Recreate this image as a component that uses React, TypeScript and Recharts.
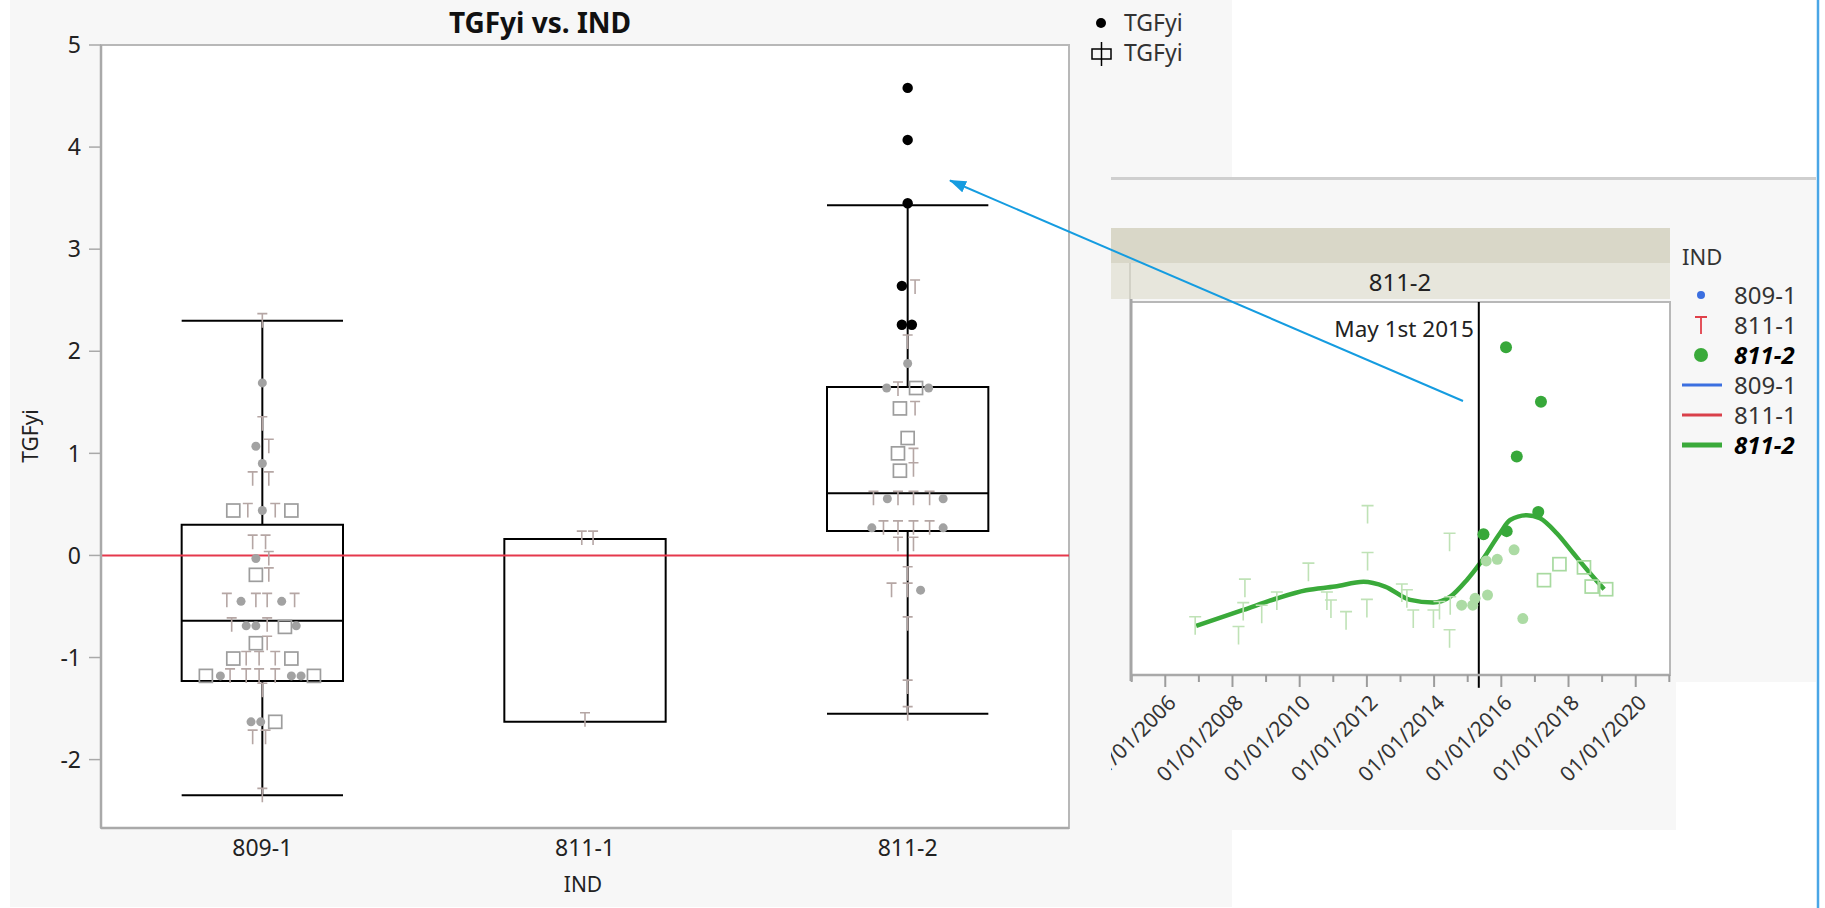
import {
  ComposedChart,
  Scatter,
  Line,
  XAxis,
  YAxis,
  ReferenceLine,
  ReferenceArea,
  CartesianGrid,
} from "recharts";

// ---- main box plot: TGFyi vs. IND ----
const categories = ["809-1", "811-1", "811-2"];
const catTicks = [0, 1, 2];
const yTicks = [-2, -1, 0, 1, 2, 3, 4, 5];
const yMin = -2.67;
const yMax = 5;

const whiskerTop = [2.3, 0.16, 3.43];
const boxQ3 = [0.3, 0.16, 1.65];
const boxMedian = [-0.64, 0.16, 0.61];
const boxQ1 = [-1.23, -1.63, 0.24];
const whiskerBottom = [-2.35, -1.63, -1.55];

// [category index + jitter, TGFyi]
const grayDots: [number, number][] = [
  [0, 1.69], [-0.02, 1.07], [0, 0.9], [0, 0.44], [-0.02, -0.03],
  [-0.066, -0.45], [0.06, -0.45], [-0.05, -0.69], [-0.02, -0.69], [0.105, -0.69],
  [-0.13, -1.18], [0.09, -1.18], [0.12, -1.18], [-0.035, -1.63], [-0.005, -1.63],
  [2, 1.88], [1.935, 1.64], [2.065, 1.64], [1.937, 0.555], [2.11, 0.555],
  [1.889, 0.27], [2.11, 0.27], [2.04, -0.34],
];
const selectedDots: [number, number][] = [
  [2, 4.58], [2, 4.07], [2, 3.45], [1.982, 2.64], [1.982, 2.26], [2.013, 2.26],
];
const tMarks: [number, number][] = [
  [0, 2.3], [0, 1.29], [0.02, 1.07], [-0.03, 0.75], [0.02, 0.75],
  [-0.045, 0.44], [0.04, 0.44], [-0.03, 0.13], [0.01, 0.13], [0.02, -0.03],
  [0.02, -0.19], [-0.11, -0.44], [-0.02, -0.44], [0.015, -0.44], [0.1, -0.44],
  [-0.095, -0.68], [0.015, -0.68], [0.015, -0.86], [-0.05, -1.01], [-0.01, -1.01],
  [0.04, -1.01], [-0.1, -1.18], [-0.05, -1.18], [-0.01, -1.18], [0.04, -1.18],
  [0, -1.32], [-0.03, -1.78], [0.01, -1.78], [0, -2.35],
  [0.99, 0.17], [1.025, 0.17], [1, -1.61],
  [2.023, 2.63], [2, 2.09], [1.97, 1.63], [2.023, 1.44], [2.018, 0.98],
  [2.018, 0.84], [1.894, 0.56], [1.97, 0.56], [2.018, 0.56], [2.068, 0.56],
  [1.925, 0.27], [1.97, 0.27], [2.018, 0.27], [2.068, 0.27], [1.97, 0.11],
  [2.018, 0.11], [2, -0.18], [1.95, -0.34], [2, -0.34], [2, -0.67],
  [2, -1.29], [2, -1.55],
];
const squares: [number, number][] = [
  [-0.09, 0.44], [0.09, 0.44], [-0.02, -0.19], [0.07, -0.7], [-0.02, -0.86],
  [-0.09, -1.01], [0.09, -1.01], [-0.175, -1.18], [0.16, -1.18], [0.04, -1.63],
  [2.026, 1.64], [1.976, 1.44], [2, 1.15], [1.97, 1.0], [1.976, 0.83],
];

// ---- inset: 811-2 over time ----
const insetYears = [2005, 2006, 2007, 2008, 2009, 2010, 2011, 2012, 2013, 2014, 2015, 2016, 2017, 2018, 2019, 2020, 2021];
const insetXDomain = [2004.98, 2021.02];
const insetYDomain = [-1.5, 5.5];
const mayFirst2015 = 2015.33;
const legendItems = ["809-1", "811-1", "811-2"];

const fitCurve: [number, number][] = [
  [2006.92, -0.58], [2008.32, -0.28], [2009.33, -0.06], [2010.19, 0.09], [2011.05, 0.16],
  [2011.9, 0.25], [2012.54, 0.16], [2013.29, -0.09], [2013.97, -0.14], [2014.48, -0.03],
  [2014.97, 0.28], [2015.37, 0.6], [2015.96, 1.16], [2016.26, 1.41], [2016.76, 1.5],
  [2017.15, 1.44], [2017.65, 1.16], [2018.15, 0.78], [2018.64, 0.41], [2019.06, 0.11],
];
const insetDark: [number, number][] = [
  [2016.14, 4.65], [2017.18, 3.63], [2016.46, 2.6], [2017.1, 1.56], [2015.47, 1.14], [2016.16, 1.2],
];
const insetLight: [number, number][] = [
  [2016.38, 0.85], [2015.88, 0.67], [2015.55, 0.64], [2015.59, 0.0],
  [2015.22, -0.06], [2015.15, -0.19], [2014.82, -0.19], [2016.64, -0.44],
];
const insetSquares: [number, number][] = [
  [2017.27, 0.28], [2017.73, 0.58], [2018.46, 0.52], [2018.69, 0.16], [2019.12, 0.11],
];
const insetT: [number, number][] = [
  [2006.89, -0.575], [2008.37, 0.13], [2008.32, -0.31], [2008.18, -0.76], [2008.87, -0.36],
  [2009.32, -0.11], [2010.26, 0.43], [2010.81, -0.11], [2010.93, -0.26], [2011.38, -0.48],
  [2012.02, 1.51], [2012.02, 0.63], [2012.0, -0.25], [2013.04, 0.04], [2013.19, -0.07],
  [2014.46, 0.99], [2013.38, -0.45], [2013.98, -0.45], [2014.48, -0.2], [2014.16, -0.29],
  [2014.46, -0.82],
];

const toXY = (pts: [number, number][]) => pts.map(([x, y]) => ({ x, y }));

const tShape = (color: string, w: number, h: number) => (p: any) => (
  <path
    d={`M${p.cx - w / 2},${p.cy - h / 2}H${p.cx + w / 2}M${p.cx},${p.cy - h / 2}V${p.cy + h / 2}`}
    stroke={color}
    strokeWidth={1.6}
    fill="none"
  />
);
const dotShape = (color: string, r: number) => (p: any) => (
  <circle cx={p.cx} cy={p.cy} r={r} fill={color} />
);
const squareShape = (color: string, s: number) => (p: any) => (
  <rect x={p.cx - s / 2} y={p.cy - s / 2} width={s} height={s} fill="none" stroke={color} strokeWidth={1.7} />
);

const DateTick = (props: any) => {
  const { x, y, payload } = props;
  const yr = payload.value;
  const major = yr % 2 === 0;
  const tx = x + 12;
  const ty = y + 29;
  return (
    <g>
      <line x1={x} y1={y} x2={x} y2={y + (major ? 12 : 7)} stroke="#9c9c9c" strokeWidth={2} />
      {major && (
        <text x={tx} y={ty} transform={`rotate(-45 ${tx} ${ty})`} textAnchor="end" fontSize={21} fill="#333">
          {`01/01/${yr}`}
        </text>
      )}
    </g>
  );
};

const font = '"Noto Sans", "Open Sans", sans-serif';

export default function App() {
  return (
    <div style={{ position: "absolute", left: 0, top: 0, width: 1825, height: 908, background: "#fff", fontFamily: font, overflow: "hidden" }}>
      {/* panels */}
      <div style={{ position: "absolute", left: 10, top: 0, width: 1222, height: 907, background: "#f7f7f7" }} />
      <div style={{ position: "absolute", left: 1111, top: 180, width: 705, height: 502, background: "#f7f7f7" }} />
      <div style={{ position: "absolute", left: 1111, top: 682, width: 565, height: 148, background: "#f7f7f7" }} />
      <div style={{ position: "absolute", left: 1111, top: 177, width: 705, height: 3, background: "#cfcfcf" }} />
      <div style={{ position: "absolute", left: 1111, top: 228, width: 559, height: 35, background: "#d9d7c8" }} />
      <div style={{ position: "absolute", left: 1111, top: 263, width: 559, height: 36, background: "#e7e6dc" }} />
      <div style={{ position: "absolute", left: 1129, top: 263, width: 2, height: 36, background: "#d2d1c6" }} />

      {/* main chart */}
      <div style={{ position: "absolute", left: 0, top: 0 }}>
        <ComposedChart width={1232} height={908} margin={{ top: 45, right: 163, bottom: 0, left: 0 }}>
          <CartesianGrid fill="#fff" horizontal={false} vertical={false} />
          <XAxis
            type="number"
            dataKey="x"
            domain={[-0.5, 2.5]}
            ticks={catTicks}
            tickFormatter={(v: number) => categories[v] ?? ""}
            allowDataOverflow
            height={80}
            tickLine={false}
            tickSize={8}
            tickMargin={4}
            axisLine={{ stroke: "#a9a9a9", strokeWidth: 2.5 }}
            tick={{ fontSize: 23, fill: "#222" }}
          />
          <YAxis
            type="number"
            dataKey="y"
            domain={[yMin, yMax]}
            ticks={yTicks}
            allowDataOverflow
            width={101}
            tickSize={12}
            tickMargin={8}
            tickLine={{ stroke: "#a9a9a9", strokeWidth: 1.5 }}
            axisLine={{ stroke: "#a9a9a9", strokeWidth: 2.5 }}
            tick={{ fontSize: 23, fill: "#222" }}
          />
          <ReferenceArea x1={-0.5} x2={2.5} y1={yMin} y2={yMax} fill="none" stroke="#b8b8b8" strokeWidth={2} />
          <Scatter data={toXY(squares)} dataKey="y" shape={squareShape("#9d9d9d", 13)} isAnimationActive={false} />
          <Scatter data={toXY(tMarks)} dataKey="y" shape={tShape("#b5a6a4", 10, 14)} isAnimationActive={false} />
          <Scatter data={toXY(grayDots)} dataKey="y" shape={dotShape("#a2a2a2", 4.5)} isAnimationActive={false} />
          <ReferenceLine y={0} stroke="#e5384c" strokeWidth={2} />
          {categories.map((c, i) => (
            <ReferenceArea
              key={"box" + c}
              x1={i - 0.25}
              x2={i + 0.25}
              y1={boxQ1[i]}
              y2={boxQ3[i]}
              fill="none"
              stroke="#000"
              strokeWidth={2}
            />
          ))}
          {categories.map((c, i) => (
            <ReferenceLine key={"med" + c} segment={[{ x: i - 0.25, y: boxMedian[i] }, { x: i + 0.25, y: boxMedian[i] }]} stroke="#000" strokeWidth={2} />
          ))}
          {categories.map((c, i) =>
            whiskerTop[i] > boxQ3[i] ? (
              <ReferenceLine key={"wt" + c} segment={[{ x: i, y: boxQ3[i] }, { x: i, y: whiskerTop[i] }]} stroke="#000" strokeWidth={2} />
            ) : null
          )}
          {categories.map((c, i) =>
            whiskerTop[i] > boxQ3[i] ? (
              <ReferenceLine key={"ct" + c} segment={[{ x: i - 0.25, y: whiskerTop[i] }, { x: i + 0.25, y: whiskerTop[i] }]} stroke="#000" strokeWidth={2} />
            ) : null
          )}
          {categories.map((c, i) =>
            whiskerBottom[i] < boxQ1[i] ? (
              <ReferenceLine key={"wb" + c} segment={[{ x: i, y: boxQ1[i] }, { x: i, y: whiskerBottom[i] }]} stroke="#000" strokeWidth={2} />
            ) : null
          )}
          {categories.map((c, i) =>
            whiskerBottom[i] < boxQ1[i] ? (
              <ReferenceLine key={"cb" + c} segment={[{ x: i - 0.25, y: whiskerBottom[i] }, { x: i + 0.25, y: whiskerBottom[i] }]} stroke="#000" strokeWidth={2} />
            ) : null
          )}
          <Scatter data={toXY(selectedDots)} dataKey="y" shape={dotShape("#000", 5.2)} isAnimationActive={false} />
        </ComposedChart>
      </div>

      {/* inset chart */}
      <div style={{ position: "absolute", left: 1111, top: 290 }}>
        <ComposedChart width={565} height={540} margin={{ top: 12, right: 6, bottom: 0, left: 20 }}>
          <CartesianGrid fill="#fff" horizontal={false} vertical={false} />
          <XAxis
            type="number"
            dataKey="x"
            domain={insetXDomain}
            ticks={insetYears}
            allowDataOverflow
            height={155}
            tickLine={false}
            tickSize={0}
            tickMargin={0}
            interval={0}
            axisLine={{ stroke: "#a9a9a9", strokeWidth: 2.5 }}
            tick={<DateTick />}
          />
          <YAxis type="number" dataKey="y" domain={insetYDomain} allowDataOverflow hide />
          <ReferenceArea x1={insetXDomain[0]} x2={insetXDomain[1]} y1={insetYDomain[0]} y2={insetYDomain[1]} fill="none" stroke="#b8b8b8" strokeWidth={2} />
          <Scatter data={toXY(insetT)} dataKey="y" shape={tShape("#bfe2b6", 12, 18)} isAnimationActive={false} />
          <Scatter data={toXY(insetLight)} dataKey="y" shape={dotShape("#acdba4", 5.5)} isAnimationActive={false} />
          <Scatter data={toXY(insetSquares)} dataKey="y" shape={squareShape("#a8daa0", 13)} isAnimationActive={false} />
          <Line data={toXY(fitCurve)} dataKey="y" type="monotone" stroke="#3aaa3a" strokeWidth={4.5} dot={false} isAnimationActive={false} />
          <Scatter data={toXY(insetDark)} dataKey="y" shape={dotShape("#37a83a", 6)} isAnimationActive={false} />
          <ReferenceLine
            x={mayFirst2015}
            stroke="#000"
            strokeWidth={2}
            label={(p: any) => (
              <text x={p.viewBox.x - 5} y={p.viewBox.y + 35} textAnchor="end" fontSize={22.5} fill="#222">
                May 1st 2015
              </text>
            )}
          />
          <ReferenceLine
            segment={[{ x: mayFirst2015, y: insetYDomain[0] }, { x: mayFirst2015, y: -1.74 }]}
            ifOverflow="visible"
            stroke="#000"
            strokeWidth={2}
          />
        </ComposedChart>
      </div>

      {/* texts, legends, annotations */}
      <svg width={1825} height={908} style={{ position: "absolute", left: 0, top: 0, pointerEvents: "none" }}>
        <defs>
          <marker id="ah" markerWidth="17" markerHeight="12" refX="16" refY="6" orient="auto" markerUnits="userSpaceOnUse">
            <path d="M0,0 L17,6 L0,12 Z" fill="#159ce0" />
          </marker>
        </defs>
        <text x={540} y={33} textAnchor="middle" fontSize={28} fontWeight="bold" fill="#111">TGFyi vs. IND</text>
        <text x={38} y={436} transform="rotate(-90 38 436)" textAnchor="middle" fontSize={21} fill="#222">TGFyi</text>
        <text x={583} y={892} textAnchor="middle" fontSize={21} fill="#222">IND</text>

        <circle cx={1101} cy={23} r={5} fill="#000" />
        <text x={1124} y={31} fontSize={23} fill="#333">TGFyi</text>
        <rect x={1092} y={49} width={19} height={10} fill="none" stroke="#000" strokeWidth={1.5} />
        <line x1={1101.5} y1={42} x2={1101.5} y2={66} stroke="#000" strokeWidth={1.5} />
        <text x={1124} y={61} fontSize={23} fill="#333">TGFyi</text>

        <text x={1400} y={291} textAnchor="middle" fontSize={24} fill="#222">811-2</text>
        <line x1={1131} y1={299} x2={1131} y2={681} stroke="#a5a5a5" strokeWidth={3} />

        <text x={1682} y={265} fontSize={22} fill="#333">IND</text>
        <circle cx={1701} cy={295} r={4} fill="#3b6fe0" />
        <path d="M1695,317H1707M1701,317V334" stroke="#e0404a" strokeWidth={1.8} />
        <circle cx={1701} cy={355} r={7} fill="#3aaa3a" />
        <line x1={1682} y1={385} x2={1722} y2={385} stroke="#3b6fe0" strokeWidth={3} />
        <line x1={1682} y1={415} x2={1722} y2={415} stroke="#d9404a" strokeWidth={3} />
        <line x1={1682} y1={445} x2={1722} y2={445} stroke="#3aaa3a" strokeWidth={5} />
        {legendItems.concat(legendItems).map((t, k) => (
          <text
            key={k}
            x={1734}
            y={303.6 + k * 30}
            fontSize={24}
            fill={t === "811-2" ? "#000" : "#333"}
            fontWeight={t === "811-2" ? "bold" : "normal"}
            fontStyle={t === "811-2" ? "italic" : "normal"}
          >
            {t}
          </text>
        ))}

        <line x1={1463} y1={401} x2={950} y2={180.5} stroke="#159ce0" strokeWidth={2} markerEnd="url(#ah)" />
        <line x1={1818} y1={0} x2={1818} y2={908} stroke="#4aa6e6" strokeWidth={2.5} />
      </svg>
    </div>
  );
}
